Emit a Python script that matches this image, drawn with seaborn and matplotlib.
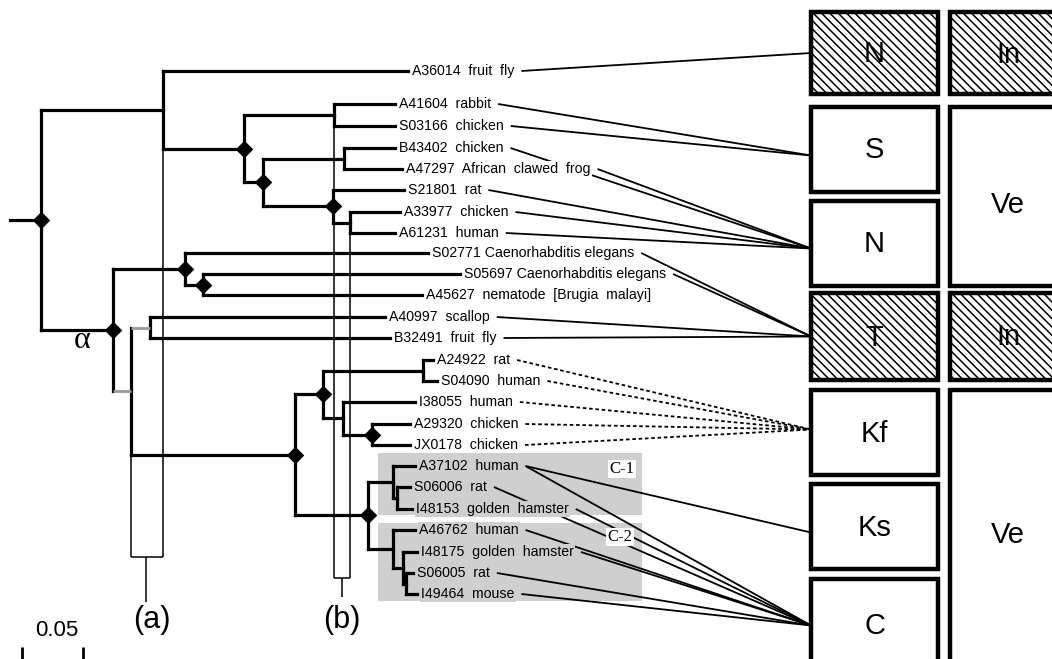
import matplotlib
matplotlib.use("Agg")
import matplotlib.pyplot as plt
from matplotlib.patches import Rectangle
from matplotlib.collections import LineCollection
import seaborn as sns
import pandas as pd

# ---------------- data ----------------
leaf_ids = ["A36014", "A41604", "S03166", "B43402", "A47297", "S21801", "A33977", "A61231",
            "S02771", "S05697", "A45627", "A40997", "B32491", "A24922", "S04090", "I38055",
            "A29320", "JX0178", "A37102", "S06006", "I48153", "A46762", "I48175", "S06005", "I49464"]
leaf_species = ["fruit  fly", "rabbit", "chicken", "chicken", "African  clawed  frog", "rat", "chicken",
                "human", "Caenorhabditis elegans", "Caenorhabditis elegans", "nematode  [Brugia  malayi]",
                "scallop", "fruit  fly", "rat", "human", "human", "chicken", "chicken", "human", "rat",
                "golden  hamster", "human", "golden  hamster", "rat", "mouse"]
# tip depth of each leaf (tree distance axis) and its row
leaf_tip = [408, 395, 395, 395, 402, 404, 400, 395, 428, 460, 422, 385, 390,
            433, 437, 415, 410, 410, 415, 410, 412, 415, 417, 413, 417]
leaf_row = [71, 104, 126, 148, 169, 190, 212, 233, 253, 274, 295, 317, 338,
            360, 381, 402, 424, 445, 466, 487, 509, 530, 552, 573, 594]

# tree: (node depth, supported-node diamond, children); ints are leaf indices
tree = (41, True, [
    (163, False, [0, (244, True, [
        (334, False, [1, 2]),
        (263, True, [
            (344, False, [3, 4]),
            (333, True, [5, (350, False, [6, 7])]),
        ]),
    ])]),
    (113, True, [
        (185, True, [8, (203, True, [9, 10])]),
        (131, False, [
            (150, False, [11, 12]),
            (295, True, [
                (323, True, [(423, False, [13, 14]),
                             (343, False, [15, (372, True, [16, 17])])]),
                (368, True, [(393, False, [18, (397, False, [19, 20])]),
                             (393, False, [21, (403, False, [22, (406, False, [23, 24])])])]),
            ]),
        ]),
    ]),
])
gray_stems = {131, 150}

box_col1_labels = ["N", "S", "N", "T", "Kf", "Ks", "C"]
box_col1_hatched = [True, False, False, True, False, False, False]
box_col2_labels = ["In", "Ve", "In", "Ve"]
box_col2_hatched = [True, False, True, False]

link_leaf = [0, 1, 2, 3, 4, 5, 6, 7, 8, 9, 11, 12, 13, 14, 15, 16, 17, 18, 18, 19, 20, 21, 22, 23, 24]
link_box = [0, 1, 1, 2, 2, 2, 2, 2, 3, 3, 3, 3, 4, 4, 4, 4, 4, 5, 6, 6, 6, 6, 6, 6, 6]

scale_value = 0.05
px_per_unit = 1220

# ---------------- layout ----------------
W, H = 1052, 659
col1_x, col1_w = 811, 127
col1_rows = [(12, 94), (107, 192), (201, 286), (293, 380), (390, 475), (484, 569), (579, 672)]
col1_anchor_dy = [0, 6, 5, 0, -3, 6, 0]
col2_x, col2_w = 950, 116
col2_rows = [(12, 94), (107, 286), (293, 380), (390, 672)]
col2_text_y = [55, 205, 337, 535]
shade_color = "#cfcfcf"
shade_regions = [(378, 453, 642, 515), (378, 523, 642, 601)]

sns.set_theme(style="white")
plt.rcParams["font.family"] = ["Liberation Sans", "DejaVu Sans"]
plt.rcParams["text.color"] = "black"
plt.rcParams["hatch.linewidth"] = 1.1

fig = plt.figure(figsize=(W / 100, H / 100), dpi=100)
ax = fig.add_axes([0, 0, 1, 1])
ax.set_xlim(0, W)
ax.set_ylim(H, 0)
ax.axis("off")

thick, thin = [], []
gray_segs = []
diamonds = []
node_span = {}


def draw(node, parent_x):
    if isinstance(node, int):
        y = leaf_row[node]
        thick.append([(parent_x, y), (leaf_tip[node], y)])
        return y
    x, diam, children = node
    ys = [draw(c, x) for c in children]
    y0, y1 = min(ys), max(ys)
    thick.append([(x, y0), (x, y1)])
    y = (y0 + y1) / 2
    if x in gray_stems:
        gray_segs.append([(parent_x, y), (x, y)])
    else:
        thick.append([(parent_x, y), (x, y)])
    if diam:
        diamonds.append((x, y))
    node_span[x] = node_span.get(x, []) + [(y0, y1)]
    return y


draw(tree, 10)

ax.add_collection(LineCollection(thick, colors="black", linewidths=2.3, capstyle="projecting", zorder=3))
ax.add_collection(LineCollection(gray_segs, colors="#9a9a9a", linewidths=2.0, capstyle="butt", zorder=3))

# (a) and (b) columns
a_left, a_right = 131, 163
a_bottom, a_stem = 557, 602
b_left, b_right = 334, 350
b_bottom, b_stem = 578, 597
box_lines = [
    [(a_left, node_span[a_left][0][1]), (a_left, a_bottom)],
    [(a_right, node_span[a_right][0][1]), (a_right, a_bottom)],
    [(a_left, a_bottom), (a_right, a_bottom)],
    [((a_left + a_right) / 2 - 1, a_bottom), ((a_left + a_right) / 2 - 1, a_stem)],
    [(b_left, node_span[b_left][0][0]), (b_left, b_bottom)],
    [(b_right, node_span[b_right][0][0]), (b_right, b_bottom)],
    [(b_left, b_bottom), (b_right, b_bottom)],
    [((b_left + b_right) / 2, b_bottom), ((b_left + b_right) / 2, b_stem)],
]
ax.add_collection(LineCollection(box_lines, colors="black", linewidths=1.1, zorder=2))
ax.text((a_left + a_right) / 2 + 5, 620, "(a)", fontsize=22, ha="center", va="center")
ax.text((b_left + b_right) / 2, 620, "(b)", fontsize=22, ha="center", va="center")

# node diamonds
dd = pd.DataFrame(diamonds, columns=["x", "y"])
sns.scatterplot(data=dd, x="x", y="y", marker="D", s=80, color="black", linewidth=0, ax=ax, zorder=5)
ax.set_xlim(0, W)
ax.set_ylim(H, 0)
ax.axis("off")

ax.text(82, 340, "\u03b1", fontsize=23, family="Liberation Serif", ha="center", va="center")

# shaded C-1 / C-2 regions
for (x0, y0, x1, y1) in shade_regions:
    ax.add_patch(Rectangle((x0, y0), x1 - x0, y1 - y0, facecolor=shade_color, edgecolor="none", zorder=1))
ax.text(622, 469, "C-1", fontsize=12, family="Liberation Serif", ha="center", va="center", zorder=9,
        bbox=dict(facecolor="white", edgecolor="none", pad=1))
ax.text(620, 537, "C-2", fontsize=12, family="Liberation Serif", ha="center", va="center", zorder=9,
        bbox=dict(facecolor="white", edgecolor="none", pad=1))

# leaf labels
texts = []
for i, (lid, sp) in enumerate(zip(leaf_ids, leaf_species)):
    bg = shade_color if i >= 18 else "white"
    t = ax.text(leaf_tip[i] + 4, leaf_row[i], f"{lid}  {sp}" if "elegans" not in sp else f"{lid} {sp}",
                fontsize=10.2, ha="left", va="center", zorder=8,
                bbox=dict(facecolor=bg, edgecolor="none", pad=0.8))
    texts.append(t)

# right boxes
for (y0, y1), lab, hat in zip(col1_rows, box_col1_labels, box_col1_hatched):
    ax.add_patch(Rectangle((col1_x, y0), col1_w, y1 - y0, facecolor="white", edgecolor="black",
                           linewidth=3.2, hatch="\\\\\\\\" if hat else None, zorder=6))
    ax.text(col1_x + col1_w / 2, (y0 + y1) / 2 + 1, lab, fontsize=21, ha="center", va="center", zorder=7)
for (y0, y1), lab, hat, ty in zip(col2_rows, box_col2_labels, box_col2_hatched, col2_text_y):
    ax.add_patch(Rectangle((col2_x, y0), col2_w, y1 - y0, facecolor="white", edgecolor="black",
                           linewidth=3.2, hatch="\\\\\\\\" if hat else None, zorder=6))
    ax.text(col2_x + col2_w / 2, ty, lab, fontsize=21, ha="center", va="center", zorder=7)

# links from labels to boxes
fig.canvas.draw()
renderer = fig.canvas.get_renderer()
inv = ax.transData.inverted()
solid, dotted = [], []
for li, bi in zip(link_leaf, link_box):
    bb = texts[li].get_window_extent(renderer)
    x_end = inv.transform((bb.x1, bb.y0))[0]
    y0, y1 = col1_rows[bi]
    seg = [(x_end + 7, leaf_row[li]), (col1_x, (y0 + y1) / 2 + col1_anchor_dy[bi])]
    (dotted if box_col1_labels[bi] == "Kf" else solid).append(seg)
ax.add_collection(LineCollection(solid, colors="black", linewidths=1.3, zorder=4))
ax.add_collection(LineCollection(dotted, colors="black", linewidths=1.3, linestyles=[(0, (2, 1.5))], zorder=4))

# scale bar
bar_x0 = 22
bar_len = scale_value * px_per_unit
ax.add_collection(LineCollection([[(bar_x0, 647), (bar_x0, 662)], [(bar_x0 + bar_len, 647), (bar_x0 + bar_len, 662)]],
                                 colors="black", linewidths=2.0))
ax.text(bar_x0 + bar_len / 2 + 4, 630, f"{scale_value:.2f}", fontsize=16, ha="center", va="center")

fig.savefig("out.png", dpi=100)
